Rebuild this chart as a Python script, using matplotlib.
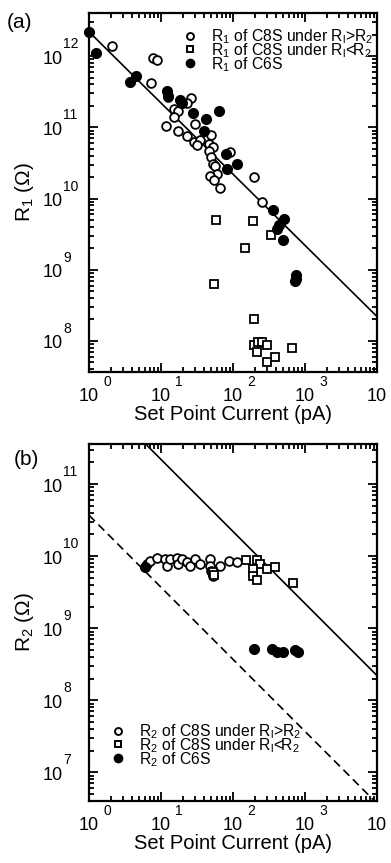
"""Two-panel log-log plot of R1 and R2 against set point current."""

import math

import matplotlib
matplotlib.use("Agg")
import matplotlib.pyplot as plt
from matplotlib.lines import Line2D
from matplotlib.ticker import LogLocator, FixedLocator, NullFormatter

plt.rcParams["font.family"] = ["Liberation Sans", "DejaVu Sans"]
plt.rcParams["mathtext.fontset"] = "custom"
plt.rcParams["mathtext.rm"] = "Liberation Sans"
plt.rcParams["mathtext.it"] = "Liberation Sans:italic"
plt.rcParams["mathtext.bf"] = "Liberation Sans:bold"

# =============================================================================
# DATA
# =============================================================================
# panel (a): R1
a_c8s_hi_x = [2.07, 7.8, 8.7, 7.2, 12.6, 26, 23, 15, 17.4, 15, 30, 11.7, 17, 23,
              29, 35, 31.5, 50, 47, 53, 47, 49, 52, 56, 59, 48, 55, 65, 91, 195, 250]
a_c8s_hi_y = [1.4e12, 9.3e11, 8.8e11, 4.2e11, 2.7e11, 2.6e11, 2.2e11, 1.8e11,
              1.7e11, 1.4e11, 1.1e11, 1.05e11, 8.9e10, 7.5e10, 6.2e10, 6.6e10,
              5.6e10, 7.7e10, 5.9e10, 5.3e10, 4.6e10, 3.8e10, 3.1e10, 2.9e10,
              2.2e10, 2.1e10, 1.8e10, 1.4e10, 4.5e10, 2.0e10, 8.9e9]

a_c8s_lo_x = [58, 187, 335, 147, 55, 195, 195, 220, 250, 293, 214, 385, 293, 665]
a_c8s_lo_y = [5.0e9, 4.9e9, 3.1e9, 2.0e9, 6.3e8, 2.0e8, 8.8e7, 9.8e7, 9.8e7,
              8.8e7, 6.9e7, 5.9e7, 5.0e7, 7.9e7]

a_c6s_x = [1.0, 1.25, 3.7, 4.5, 12, 12.5, 18.4, 19.4, 28, 42, 63, 40, 80, 82,
           112, 355, 510, 440, 405, 490, 750, 760, 730]
a_c6s_y = [2.2e12, 1.1e12, 4.4e11, 5.2e11, 3.2e11, 2.8e11, 2.4e11, 2.2e11,
           1.6e11, 1.3e11, 1.7e11, 8.9e10, 4.2e10, 2.6e10, 3.1e10, 6.8e9, 5.2e9,
           4.2e9, 3.7e9, 2.6e9, 8.3e8, 7.5e8, 7.0e8]

# panel (b): R2
b_c8s_hi_x = [6.3, 7.0, 8.7, 11.3, 12, 13.3, 16.5, 17.4, 19.4, 22.8, 25, 29.6,
              35, 48, 48, 50, 52, 66, 89, 112]
b_c8s_hi_y = [7.7e9, 8.6e9, 9.3e9, 9.1e9, 7.4e9, 9.1e9, 9.3e9, 7.7e9, 9.1e9,
              8.2e9, 7.4e9, 9.1e9, 7.7e9, 9.1e9, 7.4e9, 6.2e9, 5.3e9, 7.4e9,
              8.6e9, 8.2e9]

b_c8s_lo_x = [53, 54, 152, 213, 237, 190, 190, 213, 295, 385, 675]
b_c8s_lo_y = [6.0e9, 5.5e9, 8.9e9, 8.9e9, 7.7e9, 6.6e9, 5.3e9, 4.7e9, 6.6e9,
              7.0e9, 4.2e9]

b_c6s_x = [6.0, 195, 345, 405, 500, 725, 800]
b_c6s_y = [7.0e9, 5.2e8, 5.2e8, 4.7e8, 4.7e8, 5.0e8, 4.7e8]

# guide lines R = V / I
fit_x = [1.0, 1.0e4]
solid_y = [2.2e12, 2.2e8]
dashed_y = [3.7e10, 3.7e6]

x_decades = [1, 10, 100, 1000, 10000]

PT = 0.72  # points per pixel at dpi 100


def _decade_labels(ax, y_decades):
    """'10' under/left of each major tick, exponent raised beside it."""
    xt = ax.get_xaxis_transform()
    yt = ax.get_yaxis_transform()
    for v in x_decades:
        e = int(round(math.log10(v)))
        ax.annotate("10", (v, 0), xycoords=xt, xytext=(0, -29 * PT),
                    textcoords="offset points", ha="center", va="baseline",
                    fontsize=13, annotation_clip=False)
        ax.annotate(str(e), (v, 0), xycoords=xt, xytext=(14 * PT, -14 * PT),
                    textcoords="offset points", ha="left", va="baseline",
                    fontsize=10, annotation_clip=False)
    for v in y_decades:
        e = int(round(math.log10(v)))
        ax.annotate("10", (0, v), xycoords=yt, xytext=(-26 * PT, -7.5 * PT),
                    textcoords="offset points", ha="right", va="baseline",
                    fontsize=13, annotation_clip=False)
        ax.annotate(str(e), (0, v), xycoords=yt, xytext=(-25.5 * PT, 8 * PT),
                    textcoords="offset points", ha="left", va="baseline",
                    fontsize=10, annotation_clip=False)


def _style_axis(ax, ylim, y_decades):
    ax.set_xscale("log")
    ax.set_yscale("log")
    ax.set_xlim(1, 1e4)
    ax.set_ylim(*ylim)
    ax.xaxis.set_major_locator(FixedLocator(x_decades))
    ax.xaxis.set_minor_locator(LogLocator(base=10, subs=range(2, 10), numticks=20))
    ax.yaxis.set_major_locator(FixedLocator(y_decades))
    ax.yaxis.set_minor_locator(LogLocator(base=10, subs=range(2, 10), numticks=30))
    for axis in (ax.xaxis, ax.yaxis):
        axis.set_major_formatter(NullFormatter())
        axis.set_minor_formatter(NullFormatter())
    ax.tick_params(which="both", direction="in", top=True, right=True, width=1.3)
    ax.tick_params(which="major", length=6.5)
    ax.tick_params(which="minor", length=3.5)
    for s in ax.spines.values():
        s.set_linewidth(1.6)
    _decade_labels(ax, y_decades)
    ax.set_xlabel("Set Point Current (pA)", fontsize=14.5)
    ax.xaxis.set_label_coords(0.5, -0.093)


def _scatter(ax, x, y, marker, filled, ms):
    ax.plot(x, y, linestyle="none", marker=marker, markersize=ms,
            markerfacecolor="black" if filled else "white",
            markeredgecolor="black", markeredgewidth=1.3, clip_on=False,
            zorder=3)


def _legend(ax, labels, anchor):
    handles = [
        Line2D([], [], linestyle="none", marker="o", markersize=5,
               markerfacecolor="white", markeredgecolor="black",
               markeredgewidth=1.4),
        Line2D([], [], linestyle="none", marker="s", markersize=5,
               markerfacecolor="white", markeredgecolor="black",
               markeredgewidth=1.4),
        Line2D([], [], linestyle="none", marker="o", markersize=6,
               markerfacecolor="black", markeredgecolor="black"),
    ]
    ax.legend(handles, labels, loc="upper left", bbox_to_anchor=anchor,
              bbox_transform=ax.figure.transFigure, frameon=False,
              fontsize=11.3, handlelength=0.8, handletextpad=0.9,
              labelspacing=-0.3, borderpad=0, borderaxespad=0)


def main() -> int:
    W, H = 391, 863
    fig = plt.figure(figsize=(W / 100, H / 100), dpi=100)

    left, width = 89 / W, 288 / W
    ax_a = fig.add_axes([left, 1 - 372 / H, width, 359 / H])
    ax_b = fig.add_axes([left, 1 - 801 / H, width, 357 / H])

    # ---- panel (a)
    _style_axis(ax_a, (3.66e7, 4.04e12), [1e8, 1e9, 1e10, 1e11, 1e12])
    ax_a.plot(fit_x, solid_y, color="black", linewidth=1.2, zorder=2)
    _scatter(ax_a, a_c8s_hi_x, a_c8s_hi_y, "o", False, 6.3)
    _scatter(ax_a, a_c8s_lo_x, a_c8s_lo_y, "s", False, 6.3)
    _scatter(ax_a, a_c6s_x, a_c6s_y, "o", True, 6.7)
    ax_a.set_ylabel(r"R$_1$ ($\Omega$)", fontsize=15)
    ax_a.yaxis.set_label_coords(-0.183, 0.5)
    _legend(ax_a, [r"R$_1$ of C8S under R$_\mathregular{l}$>R$_2$",
                   r"R$_1$ of C8S under R$_\mathregular{l}$<R$_2$",
                   r"R$_1$ of C6S"], (184 / W, 1 - 27 / H))
    fig.text(7 / W, 1 - 23 / H, "(a)", fontsize=15, va="center", ha="left")

    # ---- panel (b)
    _style_axis(ax_b, (4.0e6, 3.6e11), [1e7, 1e8, 1e9, 1e10, 1e11])
    ax_b.plot(fit_x, solid_y, color="black", linewidth=1.2, zorder=2)
    ax_b.plot(fit_x, dashed_y, color="black", linewidth=1.2,
              dashes=(5, 3), zorder=2)
    _scatter(ax_b, b_c8s_hi_x, b_c8s_hi_y, "o", False, 6.3)
    _scatter(ax_b, b_c8s_lo_x, b_c8s_lo_y, "s", False, 6.3)
    _scatter(ax_b, b_c6s_x, b_c6s_y, "o", True, 6.7)
    ax_b.set_ylabel(r"R$_2$ ($\Omega$)", fontsize=15)
    ax_b.yaxis.set_label_coords(-0.183, 0.5)
    _legend(ax_b, [r"R$_2$ of C8S under R$_\mathregular{l}$>R$_2$",
                   r"R$_2$ of C8S under R$_\mathregular{l}$<R$_2$",
                   r"R$_2$ of C6S"], (112 / W, 1 - 722 / H))
    fig.text(14 / W, 1 - 459 / H, "(b)", fontsize=15, va="center", ha="left")

    fig.savefig("out.png", dpi=100)
    return 0


if __name__ == "__main__":
    raise SystemExit(main())
